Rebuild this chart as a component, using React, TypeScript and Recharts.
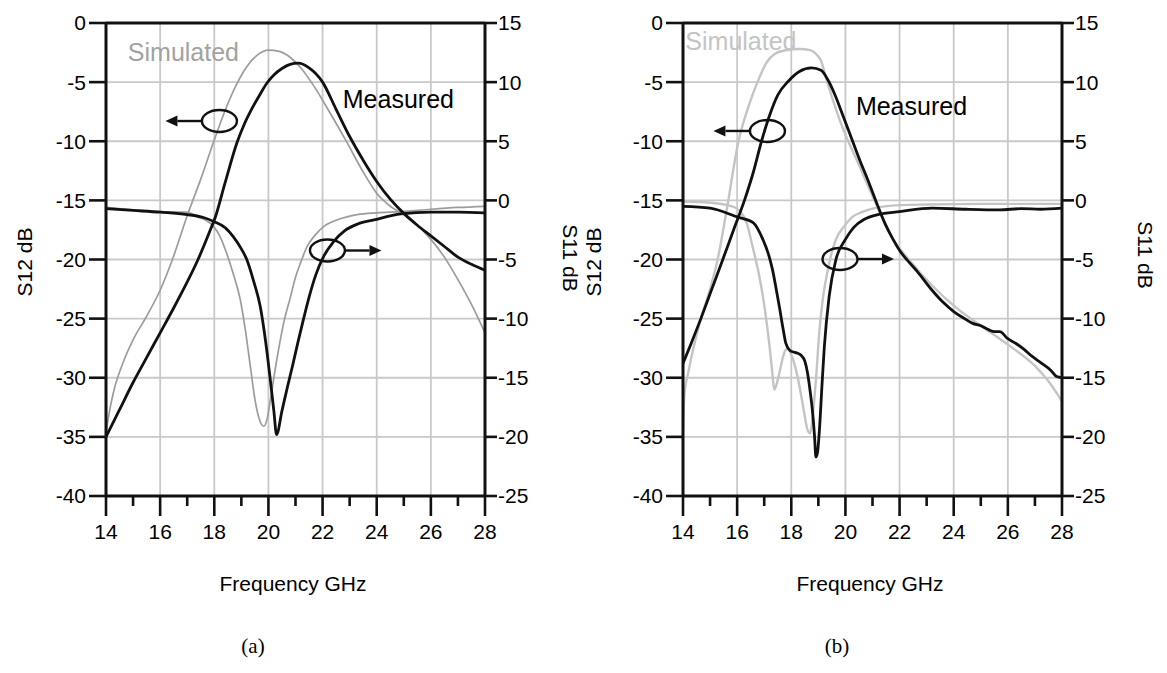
import React from 'react';
import { LineChart, Line, XAxis, YAxis, CartesianGrid, ReferenceLine, ReferenceDot } from 'recharts';

const SANS = '"Liberation Sans", Arial, sans-serif';
const SERIF = '"Liberation Serif", "Times New Roman", serif';

// Shared axis ticks
const freqTicks = [14, 15, 16, 17, 18, 19, 20, 21, 22, 23, 24, 25, 26, 27, 28];
const freqGrid = [16, 18, 20, 22, 24, 26];
const s12Ticks = [-40, -35, -30, -25, -20, -15, -10, -5, 0];
const s11Ticks = [-25, -20, -15, -10, -5, 0, 5, 10, 15];
const s12Grid = [-35, -30, -25, -20, -15, -10, -5];

// ---- Panel (a) ----
// S12, measured
const aS12MeasF = [14, 14.5, 15, 15.5, 16, 16.5, 17, 17.4, 17.8, 18.04, 18.4, 18.84, 19.1, 19.4, 19.7, 19.94, 20.2, 20.5, 20.8, 21.1, 21.5, 22, 22.5, 23, 23.5, 24, 24.5, 25, 25.5, 26, 26.5, 27, 27.5, 28];
const aS12MeasDb = [-35, -32.7, -30.4, -28.3, -26.2, -24.1, -21.9, -20.0, -17.8, -16.4, -13.5, -10.1, -8.6, -7.2, -6.0, -5.1, -4.4, -3.85, -3.5, -3.4, -3.8, -5.0, -7.3, -9.6, -11.6, -13.4, -14.9, -16.1, -17.1, -18.0, -18.9, -19.8, -20.4, -20.9];
// S12, simulated
const aS12SimF = [14, 14.1, 14.3, 14.6, 15, 15.5, 16, 16.5, 17, 17.5, 18, 18.4, 18.8, 19.2, 19.6, 20, 20.4, 20.8, 21.2, 21.7, 22.3, 22.9, 23.5, 24, 24.5, 25, 25.5, 26, 26.5, 27, 27.5, 28];
const aS12SimDb = [-34.7, -33.2, -31.0, -28.9, -26.8, -24.8, -22.6, -19.7, -16.3, -13.2, -9.9, -7.4, -5.3, -3.7, -2.7, -2.3, -2.4, -2.9, -3.8, -5.4, -7.7, -10.1, -12.6, -14.4, -15.5, -16.2, -17.1, -18.3, -19.8, -21.7, -23.8, -26.2];
// S11, measured
const aS11MeasF = [14, 15, 16, 17, 17.6, 18, 18.4, 18.7, 19, 19.2, 19.45, 19.7, 19.9, 20.05, 20.2, 20.3, 20.5, 20.7, 20.9, 21.1, 21.3, 21.5, 21.75, 22.05, 22.4, 22.8, 23.3, 23.9, 24.9, 26, 27, 28];
const aS11MeasDb = [-0.7, -0.85, -1.0, -1.2, -1.45, -1.8, -2.3, -3.06, -4.1, -5.0, -6.8, -9.0, -12.0, -14.8, -17.8, -19.8, -17.8, -15.8, -13.9, -11.9, -10.0, -8.2, -6.3, -4.7, -3.5, -2.6, -2.0, -1.65, -1.15, -1.0, -1.0, -1.05];
// S11, simulated
const aS11SimF = [14, 15, 16, 16.95, 17.4, 17.97, 18.2, 18.46, 18.7, 18.96, 19.15, 19.33, 19.5, 19.65, 19.83, 19.95, 20.07, 20.3, 20.57, 20.81, 21, 21.2, 21.43, 21.7, 22.05, 22.6, 23.28, 24, 24.9, 26, 27, 28];
const aS11SimDb = [-0.6, -0.8, -0.95, -1.0, -1.4, -2.2, -3.0, -4.5, -6.2, -8.4, -11.0, -14.0, -16.8, -18.4, -19.1, -18.5, -16.9, -13.6, -10.3, -8.2, -6.5, -5.2, -3.9, -3.0, -2.2, -1.6, -1.2, -1.05, -0.95, -0.75, -0.6, -0.5];

// ---- Panel (b) ----
const bS12MeasF = [14, 14.3, 14.66, 15, 15.47, 15.9, 16.27, 16.6, 16.9, 17.2, 17.5, 17.9, 18.3, 18.75, 19.1, 19.35, 19.6, 19.92, 20.2, 20.53, 20.85, 21.15, 21.45, 21.76, 22.05, 22.3, 22.65, 23.2, 23.6, 24, 24.4, 24.7, 25, 25.3, 25.5, 25.7, 26, 26.3, 26.6, 26.9, 27.2, 27.6, 27.8, 28];
const bS12MeasDb = [-28.8, -27.1, -25.0, -22.9, -20.0, -17.3, -15.0, -12.6, -10.0, -7.8, -6.1, -4.9, -4.1, -3.8, -4.0, -4.8, -6.0, -7.9, -9.6, -11.6, -13.4, -15.2, -16.9, -18.3, -19.4, -20.1, -21.0, -22.6, -23.6, -24.4, -25.0, -25.4, -25.6, -25.95, -26.1, -26.1, -26.7, -27.1, -27.6, -28.2, -28.7, -29.4, -29.9, -30.0];
const bS12SimF = [14, 14.05, 14.2, 14.66, 15, 15.28, 15.6, 16.05, 16.4, 16.75, 17.1, 17.4, 17.8, 18.3, 18.7, 18.95, 19.1, 19.3, 19.55, 19.92, 20.5, 21.15, 21.76, 22.3, 23.2, 24, 25, 26, 27, 27.5, 28];
const bS12SimDb = [-34.5, -31.5, -29.5, -25.0, -22.5, -20.0, -16.0, -10.0, -7.2, -5.0, -3.3, -2.6, -2.3, -2.2, -2.3, -2.7, -3.2, -4.8, -6.6, -9.0, -12.0, -15.4, -18.3, -19.9, -22.2, -23.9, -25.6, -27.2, -29.0, -30.3, -32.0];
const bS11MeasF = [14, 15, 16, 16.6, 16.95, 17.15, 17.31, 17.45, 17.56, 17.7, 17.8, 17.95, 18.05, 18.2, 18.36, 18.5, 18.6, 18.7, 18.79, 18.86, 18.91, 18.97, 19.04, 19.13, 19.22, 19.4, 19.65, 20, 20.3, 20.7, 21.2, 22, 23.2, 24.45, 25.7, 26.5, 27.2, 28];
const bS11MeasDb = [-0.5, -0.65, -1.4, -1.9, -3.3, -4.5, -5.9, -7.6, -9.0, -10.9, -12.1, -12.7, -12.8, -12.9, -13.1, -13.6, -14.6, -16.2, -18.0, -20.0, -21.7, -21.3, -19.4, -15.8, -12.4, -8.1, -5.0, -3.3, -2.3, -1.6, -1.2, -0.95, -0.66, -0.75, -0.8, -0.7, -0.75, -0.66];
const bS11SimF = [14, 15, 15.8, 16.1, 16.35, 16.57, 16.8, 16.95, 17.1, 17.2, 17.3, 17.37, 17.45, 17.56, 17.7, 17.8, 17.9, 17.99, 18.15, 18.3, 18.45, 18.6, 18.7, 18.8, 18.91, 19.04, 19.15, 19.28, 19.45, 19.65, 19.95, 20.26, 20.6, 21, 22, 23, 25, 28];
const bS11SimDb = [-0.1, -0.2, -0.5, -0.9, -1.9, -3.9, -6.2, -8.1, -10.5, -12.4, -14.6, -16.0, -15.6, -14.6, -13.2, -12.6, -12.6, -13.0, -14.1, -15.7, -17.6, -19.4, -19.7, -18.0, -15.2, -11.0, -8.6, -6.7, -4.8, -3.3, -2.2, -1.4, -1.0, -0.7, -0.4, -0.35, -0.3, -0.3];

type Pt = { f: number; v: number };
const pts = (f: number[], db: number[]): Pt[] => f.map((x, i) => ({ f: x, v: db[i] }));

const INK = '#111';

type Series = { data: Pt[]; axis: 'left' | 'right'; color: string; width: number };
type Pointer = { f: number; db: number; dir: 1 | -1 };
type Note = { f: number; db: number; text: string; color: string };

// Frequency ticks: long marks with labels on even GHz, short marks on odd GHz
const XTick = (props: any) => {
  const { x, y, payload } = props;
  const v = payload.value as number;
  const major = v % 2 === 0;
  return (
    <g>
      <line x1={x} y1={y} x2={x} y2={y + (major ? 20 : 10)} stroke={INK} strokeWidth={2.6} />
      {major && (
        <text x={x} y={y + 43} textAnchor="middle" fontFamily={SANS} fontSize={21} fill="#000">
          {v}
        </text>
      )}
    </g>
  );
};

// Ellipse around a curve with an arrow pointing to the axis it is read on
const PointerShape = ({ cx, cy, dir }: { cx: number; cy: number; dir: number }) => {
  const rx = 17.5;
  const ry = 11;
  const tip = cx + dir * 54;
  const base = tip - dir * 12;
  return (
    <g>
      <ellipse cx={cx} cy={cy} rx={rx} ry={ry} fill="none" stroke={INK} strokeWidth={2.4} />
      <line x1={cx + dir * rx} y1={cy} x2={base} y2={cy} stroke={INK} strokeWidth={2.4} />
      <polygon points={`${tip},${cy} ${base},${cy - 5.5} ${base},${cy + 5.5}`} fill={INK} />
    </g>
  );
};

function Panel({ series, pointers, notes }: { series: Series[]; pointers: Pointer[]; notes: Note[] }) {
  return (
    <LineChart width={580} height={673} margin={{ top: 23, right: 0, bottom: 137, left: 0 }}>
      <CartesianGrid
        yAxisId="left"
        verticalValues={freqGrid}
        horizontalValues={s12Grid}
        stroke="#c9c9c9"
        strokeWidth={1.8}
      />
      <XAxis
        dataKey="f"
        type="number"
        domain={[14, 28]}
        ticks={freqTicks}
        interval={0}
        allowDataOverflow
        height={40}
        tickSize={0}
        tickMargin={0}
        tickLine={false}
        tick={<XTick />}
        axisLine={{ stroke: INK, strokeWidth: 3 }}
      />
      <YAxis
        yAxisId="left"
        type="number"
        domain={[-40, 0]}
        ticks={s12Ticks}
        interval={0}
        allowDataOverflow
        width={106}
        tickSize={17}
        tickMargin={3}
        tickLine={{ stroke: INK, strokeWidth: 2.6 }}
        axisLine={{ stroke: INK, strokeWidth: 3 }}
        tick={{ fill: '#000', fontSize: 21, fontFamily: SANS }}
      />
      <YAxis
        yAxisId="right"
        orientation="right"
        type="number"
        domain={[-25, 15]}
        ticks={s11Ticks}
        interval={0}
        allowDataOverflow
        width={95}
        tickSize={12}
        tickMargin={1}
        tickLine={{ stroke: INK, strokeWidth: 2.6 }}
        axisLine={{ stroke: INK, strokeWidth: 3 }}
        tick={{ fill: '#000', fontSize: 21, fontFamily: SANS, textAnchor: 'start' }}
      />
      <ReferenceLine yAxisId="left" y={0} stroke={INK} strokeWidth={3} />
      {series.map((s, i) => (
        <Line
          key={i}
          data={s.data}
          dataKey="v"
          yAxisId={s.axis}
          type="monotone"
          stroke={s.color}
          strokeWidth={s.width}
          dot={false}
          activeDot={false}
          isAnimationActive={false}
        />
      ))}
      {pointers.map((p, i) => (
        <ReferenceDot
          key={`p${i}`}
          yAxisId="left"
          x={p.f}
          y={p.db}
          r={0}
          shape={(props: any) => <PointerShape cx={props.cx} cy={props.cy} dir={p.dir} />}
        />
      ))}
      {notes.map((n, i) => (
        <ReferenceDot
          key={`n${i}`}
          yAxisId="left"
          x={n.f}
          y={n.db}
          r={0}
          shape={(props: any) => (
            <text
              x={props.cx}
              y={props.cy}
              textAnchor="middle"
              dominantBaseline="central"
              fontFamily={SANS}
              fontSize={25}
              fill={n.color}
            >
              {n.text}
            </text>
          )}
        />
      ))}
    </LineChart>
  );
}

const seriesA: Series[] = [
  { data: pts(aS12SimF, aS12SimDb), axis: 'left', color: '#9c9c9c', width: 1.7 },
  { data: pts(aS11SimF, aS11SimDb), axis: 'right', color: '#9c9c9c', width: 1.7 },
  { data: pts(aS12MeasF, aS12MeasDb), axis: 'left', color: INK, width: 2.8 },
  { data: pts(aS11MeasF, aS11MeasDb), axis: 'right', color: INK, width: 2.8 },
];
const seriesB: Series[] = [
  { data: pts(bS12SimF, bS12SimDb), axis: 'left', color: '#c4c4c4', width: 2.4 },
  { data: pts(bS11SimF, bS11SimDb), axis: 'right', color: '#c4c4c4', width: 2.4 },
  { data: pts(bS12MeasF, bS12MeasDb), axis: 'left', color: INK, width: 2.8 },
  { data: pts(bS11MeasF, bS11MeasDb), axis: 'right', color: INK, width: 2.8 },
];

const pointersA: Pointer[] = [
  { f: 18.19, db: -8.29, dir: -1 },
  { f: 22.18, db: -19.24, dir: 1 },
];
const pointersB: Pointer[] = [
  { f: 17.12, db: -9.13, dir: -1 },
  { f: 19.8, db: -19.96, dir: 1 },
];
const notesA: Note[] = [
  { f: 16.86, db: -2.45, text: 'Simulated', color: '#a2a2a2' },
  { f: 24.8, db: -6.43, text: 'Measured', color: '#000' },
];
const notesB: Note[] = [
  { f: 16.14, db: -1.52, text: 'Simulated', color: '#c4c4c4' },
  { f: 22.44, db: -7.02, text: 'Measured', color: '#000' },
];

const Caption = ({ x, y, text, rotate = 0, font = SANS, size = 21 }: { x: number; y: number; text: string; rotate?: number; font?: string; size?: number }) => (
  <div
    style={{
      position: 'absolute',
      left: x,
      top: y,
      transform: `translate(-50%, -50%) rotate(${rotate}deg)`,
      fontFamily: font,
      fontSize: size,
      whiteSpace: 'nowrap',
      lineHeight: 1,
      color: '#000',
    }}
  >
    {text}
  </div>
);

export default function App() {
  return (
    <div style={{ position: 'absolute', left: 0, top: 0, width: 1167, height: 673, background: '#fff', overflow: 'hidden' }}>
      <div style={{ position: 'absolute', left: 0, top: 0 }}>
        <Panel series={seriesA} pointers={pointersA} notes={notesA} />
      </div>
      <div style={{ position: 'absolute', left: 577, top: 0 }}>
        <Panel series={seriesB} pointers={pointersB} notes={notesB} />
      </div>
      <Caption x={24} y={262} text="S12 dB" rotate={-90} />
      <Caption x={570} y={258} text="S11 dB" rotate={90} />
      <Caption x={593} y={262} text="S12 dB" rotate={-90} />
      <Caption x={1145} y={255} text="S11 dB" rotate={90} />
      <Caption x={293} y={583} text="Frequency GHz" />
      <Caption x={870} y={583} text="Frequency GHz" />
      <Caption x={253} y={646} text="(a)" font={SERIF} />
      <Caption x={837} y={646} text="(b)" font={SERIF} />
    </div>
  );
}
